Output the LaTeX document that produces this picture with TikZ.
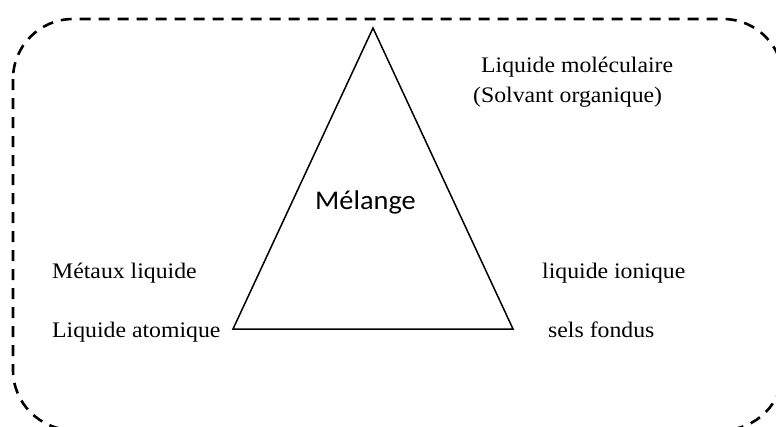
\documentclass[tikz,border=0pt]{standalone}
\usepackage{fontspec}
\setmainfont{Liberation Serif}[FakeStretch=1.07]
\newfontfamily\calibrifont{Carlito}[FakeStretch=1.05]
\begin{document}
\begin{tikzpicture}[x=1pt,y=-1pt,
  lbl/.style={anchor=base west,inner sep=0pt,font=\fontsize{22.2}{26}\selectfont},
  frame/.style={line width=2.6pt,dash pattern=on 11pt off 8pt,rounded corners=60pt},
  tri/.style={line width=1.5pt,line join=miter}]
\useasboundingbox (0,0) rectangle (776,426);
\clip (0,0) rectangle (776,426);
\draw[frame] (13,19) rectangle (783,430);
\coordinate (apex) at (373,28);
\coordinate (bl) at (233,329);
\coordinate (br) at (513,329);
\draw[tri] (apex) -- (bl) -- (br) -- cycle;
\node[lbl,font=\calibrifont\fontsize{27}{32}\selectfont] (mel) at (315,209) {Mélange};
\node[lbl] (mol) at (481,72) {Liquide moléculaire};
\node[lbl] (solv) at (473,102) {(Solvant organique)};
\node[lbl] (met) at (52,278) {Métaux liquide};
\node[lbl] (atom) at (52,337) {Liquide atomique};
\node[lbl] (ion) at (542,278) {liquide ionique};
\node[lbl] (sels) at (548,337) {sels fondus};
\end{tikzpicture}
\end{document}
